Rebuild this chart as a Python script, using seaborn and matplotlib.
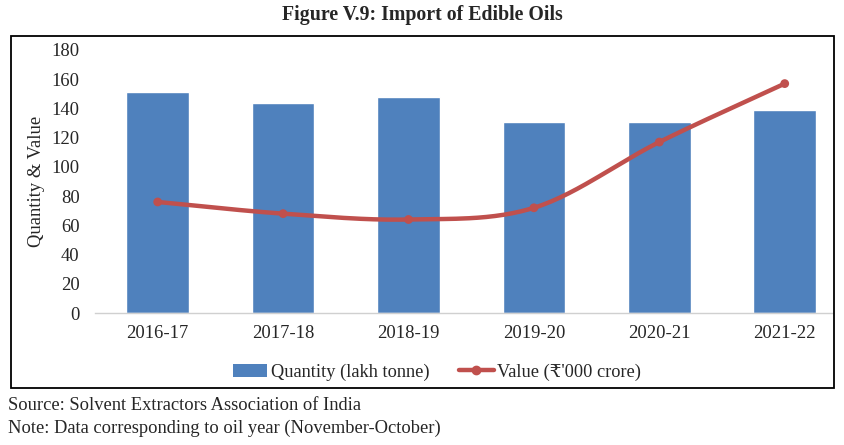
import numpy as np
import pandas as pd
import matplotlib
matplotlib.use("Agg")
import matplotlib.pyplot as plt
import seaborn as sns
from matplotlib.patches import Rectangle, Patch
from matplotlib.lines import Line2D

years = ["2016-17", "2017-18", "2018-19", "2019-20", "2020-21", "2021-22"]
quantity = [151, 144, 148, 131, 131, 139]
value = [76, 68, 64, 72, 117, 157]
yticks = [0, 20, 40, 60, 80, 100, 120, 140, 160, 180]

sns.set_theme(style="white")
plt.rcParams['font.family'] = ['Liberation Serif', 'DejaVu Serif', 'DejaVu Sans']

W, H = 844, 445
fig = plt.figure(figsize=(W / 100, H / 100), dpi=100)

def px_axes(l, t, r, b):
    return [l / W, 1 - b / H, (r - l) / W, (b - t) / H]

FS = 13.4

ax = fig.add_axes(px_axes(95, 50, 833, 313))
df = pd.DataFrame({"year": years, "quantity": quantity, "value": value})
sns.barplot(data=df, x="year", y="quantity", color="#4F81BD", width=0.5,
            saturation=1, ax=ax)

# smoothed line (Catmull-Rom through data points)
xs = np.arange(len(value), dtype=float)
ys = np.array(value, dtype=float)
P = np.vstack([xs, ys]).T
Pp = np.vstack([2 * P[0] - P[1], P, 2 * P[-1] - P[-2]])
curve = []
t = np.linspace(0, 1, 30)
for i in range(1, len(Pp) - 2):
    p0, p1, p2, p3 = Pp[i - 1], Pp[i], Pp[i + 1], Pp[i + 2]
    tt = t[:, None]
    seg = 0.5 * ((2 * p1) + (-p0 + p2) * tt + (2 * p0 - 5 * p1 + 4 * p2 - p3) * tt ** 2
                 + (-p0 + 3 * p1 - 3 * p2 + p3) * tt ** 3)
    curve.append(seg)
curve = np.vstack(curve)
ax.plot(curve[:, 0], curve[:, 1], color="#C0504D", lw=3.2, solid_capstyle="round", zorder=3)
sns.scatterplot(x=xs, y=ys, color="#C0504D", s=40, edgecolor="none", ax=ax, zorder=4)

ax.set_xlim(-0.5, 5.385)
ax.set_ylim(0, 180)
ax.set_yticks(yticks)
ax.set_yticklabels([str(v) for v in yticks])
ax.set_xlabel("")
ax.set_ylabel("Quantity & Value", fontsize=FS, labelpad=5)
ax.tick_params(axis="y", labelsize=FS, length=0, pad=11)
ax.tick_params(axis="x", labelsize=FS, length=0, pad=9)
for s in ["top", "right", "left"]:
    ax.spines[s].set_visible(False)
ax.spines["bottom"].set_color("#D0D0D0")
ax.spines["bottom"].set_linewidth(1.0)
ax.grid(False)
ax.set_facecolor("none")

handles = [Patch(facecolor="#4F81BD", edgecolor="none"),
           Line2D([0], [0], color="#C0504D", lw=3.2, marker="o", markersize=6)]
fig.legend(handles, ["Quantity (lakh tonne)", "Value (₹'000 crore)"],
           loc="center", bbox_to_anchor=(437 / W, 1 - 372 / H), ncol=2,
           frameon=False, fontsize=13.2, handlelength=1.9, handletextpad=0.2,
           columnspacing=1.6)

fig.text(422 / W, 1 - 15 / H, "Figure V.9: Import of Edible Oils", ha="center", va="center",
         fontsize=14.3, fontweight="bold")
fig.patches.append(Rectangle((11 / W, 1 - 388 / H), (834 - 11) / W, (388 - 36) / H,
                             transform=fig.transFigure, fill=False, edgecolor="black",
                             lw=1.3))
fig.text(8 / W, 1 - 406 / H, "Source: Solvent Extractors Association of India",
         ha="left", va="center", fontsize=13.3)
fig.text(8 / W, 1 - 428 / H, "Note: Data corresponding to oil year (November-October)",
         ha="left", va="center", fontsize=13.3)

fig.savefig("out.png", dpi=100)
